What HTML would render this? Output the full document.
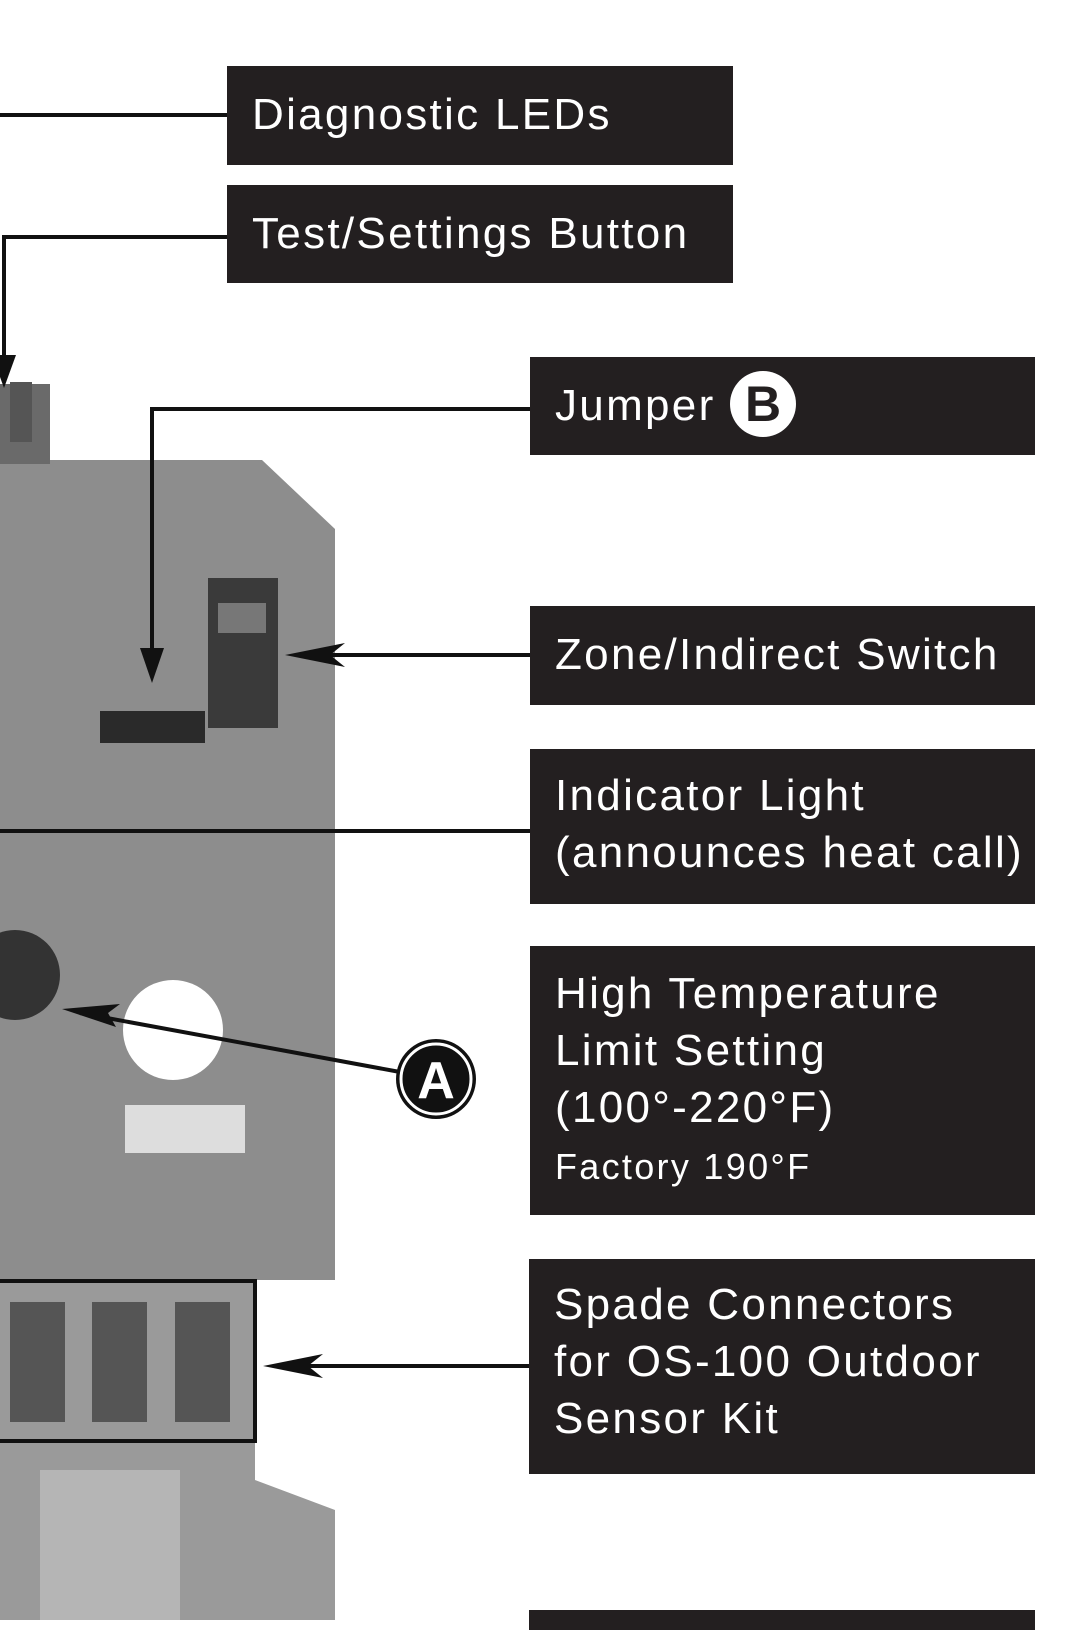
<!DOCTYPE html>
<html><head><style>
body{margin:0;width:1080px;height:1620px;background:#fff;position:relative;overflow:hidden;font-family:"Liberation Sans",sans-serif}
.b{position:absolute;background:#231f20;color:#fff;box-sizing:border-box;padding-left:25px;font-size:44px;line-height:57px;letter-spacing:2.3px}
</style></head><body>
<svg width="1080" height="1620" style="position:absolute;left:0;top:0">
<polygon points="0,460 262,460 335,529 335,1280 0,1280" fill="#8d8d8d"/>
<polygon points="0,1280 255,1280 255,1480 335,1510 335,1620 0,1620" fill="#9a9a9a"/>
<rect x="0" y="384" width="50" height="80" fill="#6a6a6a"/>
<rect x="10" y="382" width="22" height="60" fill="#555"/>
<circle cx="173" cy="1030" r="50" fill="#fff"/>
<circle cx="15" cy="975" r="45" fill="#333"/>
<rect x="208" y="578" width="70" height="150" fill="#3a3a3a"/>
<rect x="218" y="603" width="48" height="30" fill="#777"/>
<rect x="100" y="711" width="105" height="32" fill="#2a2a2a"/>
<rect x="125" y="1105" width="120" height="48" fill="#ddd"/>
<rect x="10" y="1302" width="55" height="120" fill="#555"/>
<rect x="92" y="1302" width="55" height="120" fill="#555"/>
<rect x="175" y="1302" width="55" height="120" fill="#555"/>
<rect x="40" y="1470" width="140" height="150" fill="#b5b5b5"/>
<rect x="-2" y="1281" width="257" height="160" fill="none" stroke="#111" stroke-width="4"/>
<g stroke="#111" stroke-width="4" fill="none">
<line x1="0" y1="115" x2="227" y2="115"/>
<polyline points="227,237 4,237 4,362"/>
<polyline points="530,409 152,409 152,668"/>
<line x1="530" y1="655" x2="300" y2="655"/>
<line x1="0" y1="831" x2="530" y2="831"/>
<line x1="400" y1="1072" x2="80" y2="1013"/>
<line x1="530" y1="1366" x2="275" y2="1366"/>
</g>
<g fill="#111">
<polygon points="4,388 -8,355 16,355"/>
<polygon points="152,683 140,648 164,648"/>
<polygon points="285,655 345,643 330,655 345,667"/>
<polygon points="62,1009 120,1004 108,1013 116,1027"/>
<polygon points="263,1366 323,1354 308,1366 323,1378"/>
</g>
<circle cx="436" cy="1079" r="40" fill="#111"/>
<circle cx="436" cy="1079" r="35" fill="none" stroke="#fff" stroke-width="3"/>
<text x="436" y="1098" font-family="Liberation Sans" font-weight="bold" font-size="52" fill="#fff" text-anchor="middle">A</text>
</svg>
<div class="b" style="left:227px;top:66px;width:506px;height:99px;padding-top:20px">Diagnostic LEDs</div>
<div class="b" style="left:227px;top:185px;width:506px;height:98px;padding-top:20px">Test/Settings Button</div>
<div class="b" style="left:530px;top:357px;width:505px;height:98px;padding-top:20px">Jumper <span style="display:inline-block;width:66px;height:66px;border-radius:50%;background:#fff;color:#231f20;text-align:center;line-height:66px;font-weight:bold;font-size:50px;letter-spacing:0;vertical-align:middle;margin-top:-8px">B</span></div>
<div class="b" style="left:530px;top:606px;width:505px;height:99px;padding-top:20px">Zone/Indirect Switch</div>
<div class="b" style="left:530px;top:749px;width:505px;height:155px;padding-top:18px">Indicator Light<br>(announces heat call)</div>
<div class="b" style="left:530px;top:946px;width:505px;height:269px;padding-top:19px">High Temperature<br>Limit Setting<br>(100°-220°F)<br><span style="font-size:36px">Factory 190°F</span></div>
<div class="b" style="left:529px;top:1259px;width:506px;height:215px;padding-top:17px">Spade Connectors<br>for OS-100 Outdoor<br>Sensor Kit</div>
<div class="b" style="left:529px;top:1610px;width:506px;height:20px"></div>
</body></html>
